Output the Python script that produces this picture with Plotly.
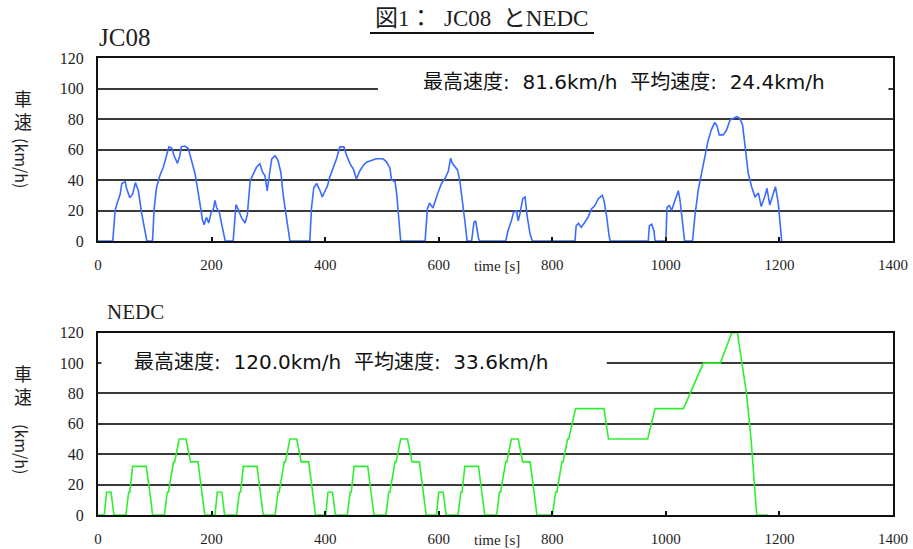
import plotly.graph_objects as go

# JC08 speed trace (time in s, speed in km/h)
jc08_t = [0, 26, 30, 33, 39, 42, 48, 50, 56, 61, 66, 71, 77, 83, 86, 96, 99, 103, 109, 115,
          121, 125, 130, 134, 140, 144, 147, 153, 159, 165, 171, 175, 180, 184, 187, 191, 195,
          199, 203, 206, 209, 214, 218, 222, 224, 238, 240, 243, 247, 253, 259, 263, 268, 273,
          279, 285, 290, 294, 298, 302, 306, 312, 317, 322, 326, 332, 337, 338, 373, 376, 380,
          385, 391, 395, 400, 404, 408, 414, 420, 426, 433, 438, 444, 450, 455, 461, 467, 473,
          482, 490, 502, 508, 514, 517, 523, 526, 529, 532, 533, 576, 578, 580, 584, 587, 590,
          593, 599, 605, 611, 617, 621, 624, 629, 633, 637, 642, 646, 650, 658, 662, 665, 670,
          672, 718, 722, 728, 732, 737, 740, 743, 748, 752, 756, 761, 765, 840, 842, 846, 851,
          857, 863, 869, 875, 881, 885, 888, 891, 896, 900, 902, 969, 971, 975, 979, 981, 1000,
          1002, 1006, 1010, 1014, 1019, 1022, 1025, 1028, 1032, 1033, 1047, 1051, 1057, 1063,
          1069, 1074, 1080, 1086, 1090, 1094, 1101, 1107, 1113, 1118, 1125, 1130, 1135, 1139,
          1142, 1145, 1151, 1157, 1163, 1168, 1174, 1178, 1183, 1188, 1193, 1198, 1202, 1204]
jc08_v = [0, 0, 19.6, 24, 30.7, 37.8, 39, 35, 28.4, 30.7, 38.4, 33, 18, 6, 0, 0, 21.8, 35, 43,
          48.4, 56, 61.8, 61, 56, 51, 56, 62, 62.4, 60.7, 53, 44, 35, 24, 14, 10.7, 15.6, 11.8,
          18.4, 20.7, 26.7, 21.8, 18.4, 10.7, 1.8, 0, 0, 12.9, 24, 20.7, 15, 11.8, 17.3, 39.6,
          44, 48.4, 50.7, 45, 43, 33, 44, 54, 56, 53, 45, 30.7, 15, 1.8, 0, 0, 21.8, 35, 37.8,
          33, 29, 33, 36, 41.8, 47.3, 54, 61.8, 61.8, 56, 50.7, 47, 40.7, 46, 49.6, 51.8, 53,
          54, 54, 52, 48, 40, 39, 31, 17.8, 2, 0, 0, 15.6, 21, 25, 23, 22, 25.6, 32, 37.8, 41,
          46, 54.4, 51, 49, 46.7, 40, 26.7, 13.3, 0, 0, 12.2, 13.3, 2, 0, 0, 6.7, 13.3, 19,
          19.6, 13.3, 17.8, 27.8, 28.9, 15.6, 4.4, 0, 0, 10, 11.6, 8.9, 12.2, 15.6, 21, 23.3,
          27.8, 28.9, 30, 26.7, 15.6, 3.3, 0, 0, 10, 11, 6.7, 0, 0, 22, 23.3, 20, 24.4, 31, 33,
          26.7, 15.6, 2.2, 0, 0, 16, 33.5, 44.5, 55.4, 65.3, 73, 77.8, 75.6, 69.7, 69.7, 73,
          79.5, 80.6, 81.6, 80.6, 76.3, 64, 53, 44.5, 35.7, 29, 31.5, 22.6, 29, 34.6, 23.7,
          29, 35.7, 24.8, 7.2, 0]

# NEDC speed trace: four urban segments followed by the extra-urban segment
nedc_t = [0, 11, 15, 23, 28, 49, 54, 56, 61, 85, 93, 96, 117, 122, 124, 133, 135, 143, 155, 163, 176, 185, 188,
          206, 210, 218, 223, 244, 249, 251, 256, 280, 288, 291, 312, 317, 319, 328, 330, 338, 350, 358, 371, 380, 383,
          401, 405, 413, 418, 439, 444, 446, 451, 475, 483, 486, 507, 512, 514, 523, 525, 533, 545, 553, 566, 575, 578,
          596, 600, 608, 613, 634, 639, 641, 646, 670, 678, 681, 702, 707, 709, 718, 720, 728, 740, 748, 761, 770, 773,
          800, 806, 808, 817, 819, 827, 829, 841, 891, 899, 968, 981, 1031, 1066, 1096, 1116, 1126, 1142, 1150, 1160, 1180]
nedc_v = [0, 0, 15, 15, 0, 0, 15, 15, 32, 32, 10, 0, 0, 15, 15, 35, 35, 50, 50, 35, 35, 10, 0,
          0, 15, 15, 0, 0, 15, 15, 32, 32, 10, 0, 0, 15, 15, 35, 35, 50, 50, 35, 35, 10, 0,
          0, 15, 15, 0, 0, 15, 15, 32, 32, 10, 0, 0, 15, 15, 35, 35, 50, 50, 35, 35, 10, 0,
          0, 15, 15, 0, 0, 15, 15, 32, 32, 10, 0, 0, 15, 15, 35, 35, 50, 50, 35, 35, 10, 0,
          0, 15, 15, 35, 35, 50, 50, 70, 70, 50, 50, 70, 70, 100, 100, 120, 120, 80, 50, 0, 0]

x_ticks = [0, 200, 400, 600, 800, 1000, 1200, 1400]
y_ticks = [0, 20, 40, 60, 80, 100, 120]

jc08_stats = "最高速度:  81.6km/h  平均速度:  24.4km/h"
nedc_stats = "最高速度:  120.0km/h  平均速度:  33.6km/h"

W, H = 913, 549
SERIF = "Liberation Serif, Noto Sans CJK JP"
SANS = "DejaVu Sans, Noto Sans CJK JP"
CJK = "Noto Sans CJK JP, Noto Sans"
INK = "#1e1e1e"
GRID = "#3a3a3a"


def px_x(p):
    return p / W


def px_y(p):
    return 1 - p / H


fig = go.Figure()
fig.add_trace(go.Scatter(x=jc08_t, y=jc08_v, mode="lines", xaxis="x", yaxis="y",
                         line=dict(color="#3b6cff", width=1.6), showlegend=False,
                         hoverinfo="skip"))
fig.add_trace(go.Scatter(x=nedc_t, y=nedc_v, mode="lines", xaxis="x2", yaxis="y2",
                         line=dict(color="#2ef02e", width=1.6), showlegend=False,
                         hoverinfo="skip"))

x_common = dict(range=[0, 1400], tickvals=x_ticks, showgrid=False, zeroline=False,
                showline=True, linecolor="#111", linewidth=2, mirror=True,
                ticks="inside", ticklen=4, tickwidth=1.5, tickcolor="#111",
                tickfont=dict(family=SERIF, size=15, color=INK),
                ticklabelstandoff=9, automargin=False, fixedrange=True)
y_common = dict(range=[0, 120], tickvals=y_ticks, showgrid=True, gridcolor=GRID,
                gridwidth=1.6, zeroline=False, showline=True, linecolor="#111",
                linewidth=2, mirror=True, ticks="",
                tickfont=dict(family=SERIF, size=16, color=INK),
                ticklabelstandoff=9, automargin=False, fixedrange=True)

fig.update_layout(
    width=W, height=H,
    margin=dict(l=0, r=0, t=0, b=0, autoexpand=False),
    paper_bgcolor="white", plot_bgcolor="white",
    xaxis=dict(domain=[px_x(98), px_x(893)], anchor="y", **x_common),
    yaxis=dict(domain=[px_y(241), px_y(58.3)], anchor="x", **y_common),
    xaxis2=dict(domain=[px_x(98), px_x(893)], anchor="y2", **x_common),
    yaxis2=dict(domain=[px_y(515), px_y(332.7)], anchor="x2", **y_common),
)

# White panels behind the statistics text, hiding part of the 100 km/h grid line
fig.add_shape(type="rect", xref="x", yref="y", x0=493, x1=1392, y0=93, y1=108,
              fillcolor="white", line=dict(width=0), layer="between")
fig.add_shape(type="rect", xref="x2", yref="y2", x0=6, x1=896, y0=93, y1=108,
              fillcolor="white", line=dict(width=0), layer="between")


def label(text, x, y, family, size, xanchor="center", angle=0, color=INK, pad=1):
    return dict(text=text, x=px_x(x), y=px_y(y), xref="paper", yref="paper",
                xanchor=xanchor, yanchor="middle", textangle=angle, showarrow=False,
                borderpad=pad, font=dict(family=family, size=size, color=color))


ann = [
    # figure title (underlined below)
    label("図1：  JC08  とNEDC", 481, 19, SERIF, 23),
    # panel names
    label("JC08", 97, 37, SERIF, 25, xanchor="left"),
    label("NEDC", 105, 312, SERIF, 21, xanchor="left"),
    # statistics
    label(jc08_stats, 624, 82, SANS, 20, color="#111"),
    label(nedc_stats, 341, 362, SANS, 20, color="#111"),
]
# axis names: upright kanji stacked, rotated unit below
for y_kanji, y_unit, y_time in [(110, 163, 266), (384, 449, 540)]:
    ann.append(label("車<br>速", 23, y_kanji, CJK, 18, pad=0))
    ann.append(label("(km/h)", 22, y_unit, CJK, 16, angle=90, pad=0))
    ann.append(label("time [s]", 497, y_time, SERIF, 15))
fig.update_layout(annotations=ann)

fig.add_shape(type="line", xref="paper", yref="paper", x0=px_x(370), x1=px_x(594),
              y0=px_y(33), y1=px_y(33), line=dict(color="#111", width=2))

fig.write_html("out.html")
